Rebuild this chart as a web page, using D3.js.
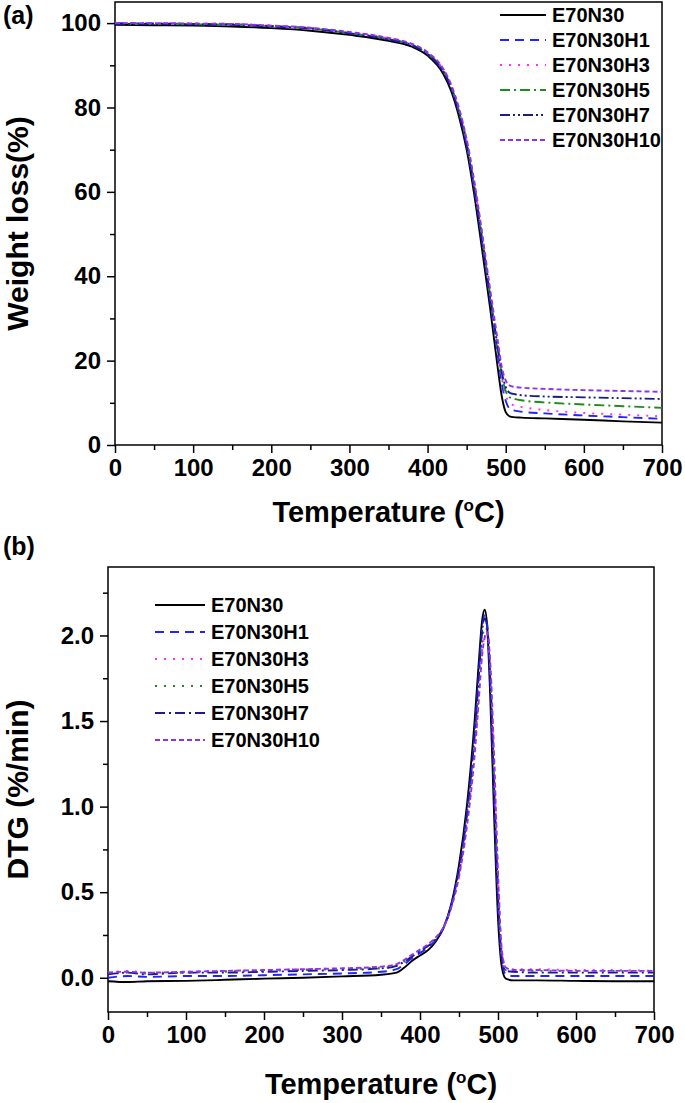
<!DOCTYPE html>
<html>
<head>
<meta charset="utf-8">
<script src="https://cdn.jsdelivr.net/npm/d3@7"></script>
<style>
  body { margin: 0; background: #fff; }
  svg { display: block; font-family: "Liberation Sans", Arial, sans-serif; font-weight: bold; }
  .axis path, .axis line { stroke: #000; stroke-width: 1.5; }
  .axis text { font-size: 24px; font-weight: bold; fill: #000; }
</style>
</head>
<body>
<svg id="chart"></svg>
<script>
// Series names, shared by both panels
const seriesNames = ["E70N30", "E70N30H1", "E70N30H3", "E70N30H5", "E70N30H7", "E70N30H10"];

// (a) TGA: temperature grid and weight values
const tgaTemps = [0, 50, 100, 150, 200, 250, 300, 350, 380, 400, 420, 430, 440, 450, 460, 470, 480, 490, 495, 500, 505, 510, 520, 550, 600, 650, 700];
const tgaE70N30 = [99.6, 99.5, 99.4, 99.2, 98.8, 98.2, 97.2, 95.8, 94.4, 92.3, 88.0, 84.0, 78.0, 70.0, 59.0, 46.0, 32.5, 18.0, 11.5, 7.8, 6.8, 6.6, 6.5, 6.3, 6.0, 5.6, 5.3];
const tgaH1 = [100.0, 99.9, 99.8, 99.7, 99.3, 98.8, 97.6, 96.2, 94.8, 92.7, 88.6, 84.8, 79.0, 71.2, 60.5, 48.0, 34.5, 21.0, 14.5, 10.5, 8.6, 8.2, 7.9, 7.5, 7.0, 6.6, 6.2];
const tgaH3 = [100.0, 100.0, 99.9, 99.8, 99.4, 98.9, 97.8, 96.4, 95.0, 93.0, 89.0, 85.3, 79.8, 72.2, 61.8, 49.5, 36.0, 22.5, 15.8, 11.8, 9.9, 9.4, 9.0, 8.3, 7.6, 7.2, 6.8];
const tgaH5 = [99.8, 99.8, 99.7, 99.6, 99.2, 98.7, 97.6, 96.2, 94.8, 92.8, 88.7, 85.0, 79.3, 71.6, 61.2, 48.8, 35.5, 22.5, 16.5, 12.8, 11.3, 11.0, 10.6, 10.1, 9.6, 9.2, 8.8];
const tgaH7 = [99.8, 99.8, 99.7, 99.6, 99.2, 98.7, 97.6, 96.1, 94.7, 92.6, 88.5, 84.7, 78.9, 71.0, 60.6, 48.3, 35.3, 23.0, 17.2, 13.8, 12.4, 12.1, 11.8, 11.5, 11.3, 11.1, 10.9];
const tgaH10 = [100.0, 100.0, 99.9, 99.8, 99.4, 98.9, 97.9, 96.5, 95.1, 93.1, 89.2, 85.5, 80.0, 72.5, 62.3, 50.0, 37.0, 24.5, 18.5, 15.3, 14.1, 13.8, 13.6, 13.3, 13.0, 12.8, 12.6];

// (b) DTG: temperature grid and rate values
const dtgTemps = [0, 25, 50, 100, 150, 200, 250, 300, 350, 370, 380, 390, 400, 410, 420, 430, 440, 450, 460, 470, 475, 480, 483, 486, 490, 495, 500, 505, 510, 520, 550, 600, 650, 700];
const dtgE70N30 = [-0.02, -0.025, -0.02, -0.018, -0.012, -0.005, 0.0, 0.008, 0.018, 0.03, 0.06, 0.1, 0.13, 0.16, 0.21, 0.29, 0.43, 0.66, 1.0, 1.5, 1.82, 2.1, 2.15, 2.06, 1.65, 0.95, 0.35, 0.06, -0.005, -0.015, -0.015, -0.018, -0.02, -0.02];
const dtgH1 = [0.0, 0.01, 0.005, 0.01, 0.01, 0.015, 0.02, 0.025, 0.035, 0.05, 0.08, 0.115, 0.145, 0.175, 0.22, 0.29, 0.42, 0.63, 0.95, 1.42, 1.75, 2.05, 2.12, 2.07, 1.75, 1.1, 0.45, 0.1, 0.02, 0.01, 0.01, 0.01, 0.01, 0.01];
const dtgH3 = [0.03, 0.04, 0.03, 0.035, 0.04, 0.045, 0.05, 0.055, 0.06, 0.075, 0.1, 0.13, 0.16, 0.19, 0.23, 0.29, 0.41, 0.6, 0.9, 1.33, 1.63, 1.92, 2.0, 2.01, 1.8, 1.25, 0.6, 0.15, 0.06, 0.05, 0.05, 0.045, 0.045, 0.04];
const dtgH5 = [0.02, 0.03, 0.025, 0.03, 0.035, 0.04, 0.045, 0.05, 0.055, 0.07, 0.095, 0.125, 0.155, 0.185, 0.225, 0.29, 0.42, 0.62, 0.93, 1.38, 1.68, 1.98, 2.05, 2.03, 1.78, 1.18, 0.52, 0.12, 0.045, 0.04, 0.04, 0.04, 0.04, 0.035];
const dtgH7 = [0.02, 0.03, 0.02, 0.03, 0.03, 0.035, 0.04, 0.045, 0.055, 0.07, 0.095, 0.125, 0.155, 0.185, 0.225, 0.29, 0.42, 0.63, 0.95, 1.42, 1.73, 2.04, 2.1, 2.05, 1.75, 1.12, 0.48, 0.11, 0.04, 0.035, 0.03, 0.03, 0.03, 0.03];
const dtgH10 = [0.03, 0.035, 0.03, 0.035, 0.04, 0.045, 0.05, 0.055, 0.065, 0.08, 0.105, 0.135, 0.165, 0.195, 0.235, 0.295, 0.41, 0.59, 0.88, 1.3, 1.6, 1.9, 1.99, 2.02, 1.85, 1.3, 0.62, 0.16, 0.06, 0.045, 0.045, 0.04, 0.04, 0.04];

// Tick values
const xTicks = [0, 100, 200, 300, 400, 500, 600, 700];
const tgaYTicks = [0, 20, 40, 60, 80, 100];
const dtgYTicks = [0, 0.5, 1.0, 1.5, 2.0];

const colors = ["#000000", "#2323ff", "#ff30ff", "#1e8c1e", "#1c1c88", "#9030f0"];

class TgaPanel {
  constructor(_config, _series) {
    this.config = {
      svg: _config.svg,
      left: _config.left,
      top: _config.top,
      width: _config.width,
      height: _config.height,
      yDomain: _config.yDomain,
      yTicks: _config.yTicks,
      yMinor: _config.yMinor,
      yFormat: _config.yFormat,
      yTitle: _config.yTitle,
      letter: _config.letter,
      letterY: _config.letterY,
      dashes: _config.dashes,
      legend: _config.legend,
      xTitleY: _config.xTitleY,
    };
    this.series = _series;
    this.initVis();
  }

  initVis() {
    let vis = this;
    const c = vis.config;

    vis.xScale = d3.scaleLinear().domain([0, 700]).range([0, c.width]);
    vis.yScale = d3.scaleLinear().domain(c.yDomain).range([c.height, 0]);

    vis.chart = c.svg.append("g")
      .attr("transform", `translate(${c.left},${c.top})`);

    vis.chart.append("clipPath").attr("id", "clip" + c.letter)
      .append("rect").attr("width", c.width).attr("height", c.height);

    // minor ticks
    vis.chart.append("g")
      .attr("class", "axis")
      .attr("transform", `translate(0,${c.height})`)
      .call(d3.axisBottom(vis.xScale).tickValues(d3.range(50, 700, 100)).tickSize(5).tickFormat(""))
      .select(".domain").remove();
    vis.chart.append("g")
      .attr("class", "axis")
      .call(d3.axisLeft(vis.yScale).tickValues(c.yMinor).tickSize(5).tickFormat(""))
      .select(".domain").remove();

    // major ticks
    vis.xAxisG = vis.chart.append("g")
      .attr("class", "axis")
      .attr("transform", `translate(0,${c.height})`)
      .call(d3.axisBottom(vis.xScale).tickValues(xTicks).tickSize(8).tickPadding(6).tickSizeOuter(0));
    vis.xAxisG.select(".domain").remove();

    vis.yAxisG = vis.chart.append("g")
      .attr("class", "axis")
      .call(d3.axisLeft(vis.yScale).tickValues(c.yTicks).tickSize(8).tickPadding(6).tickFormat(c.yFormat));
    vis.yAxisG.select(".domain").remove();

    // frame
    vis.chart.append("rect")
      .attr("width", c.width).attr("height", c.height)
      .attr("fill", "none").attr("stroke", "#000").attr("stroke-width", 1.5);

    // axis titles
    const xt = c.svg.append("text")
      .attr("x", c.left + c.width / 2).attr("y", c.xTitleY)
      .attr("text-anchor", "middle").style("font-size", "29px");
    xt.append("tspan").text("Temperature (");
    xt.append("tspan").attr("dy", -11).style("font-size", "17px").text("o");
    xt.append("tspan").attr("dy", 11).text("C)");

    c.svg.append("text")
      .attr("transform", `translate(28,${c.top + c.height / 2})rotate(-90)`)
      .attr("text-anchor", "middle").style("font-size", "30px")
      .text(c.yTitle);

    c.svg.append("text")
      .attr("x", 3).attr("y", c.letterY)
      .style("font-size", "25px").text(`(${c.letter})`);

    vis.renderVis();
  }

  renderVis() {
    let vis = this;
    const c = vis.config;

    const line = d3.line()
      .x((d) => vis.xScale(d[0]))
      .y((d) => vis.yScale(d[1]))
      .curve(d3.curveMonotoneX);

    vis.chart.append("g")
      .attr("clip-path", `url(#clip${c.letter})`)
      .selectAll(".line")
      .data(vis.series)
      .join("path")
      .attr("class", "line")
      .attr("d", (d) => line(d.points))
      .attr("fill", "none")
      .attr("stroke", (d, i) => colors[i])
      .attr("stroke-width", 1.9)
      .attr("stroke-dasharray", (d, i) => c.dashes[i]);

    // legend
    const lg = c.legend;
    const rows = c.svg.append("g")
      .selectAll("g")
      .data(vis.series)
      .join("g")
      .attr("transform", (d, i) => `translate(${lg.x},${lg.y + i * lg.step})`);
    rows.append("line")
      .attr("x1", 0).attr("x2", lg.len)
      .attr("stroke", (d, i) => colors[i])
      .attr("stroke-width", 2)
      .attr("stroke-dasharray", (d, i) => c.dashes[i]);
    rows.append("text")
      .attr("x", lg.len + 6).attr("dy", "0.35em")
      .style("font-size", "20px")
      .text((d) => d.name);
  }
}

const svg = d3.select("#chart").attr("width", 685).attr("height", 1103);

const tgaValues = [tgaE70N30, tgaH1, tgaH3, tgaH5, tgaH7, tgaH10];
const dtgValues = [dtgE70N30, dtgH1, dtgH3, dtgH5, dtgH7, dtgH10];

new TgaPanel({
  svg: svg, left: 115, top: 2, width: 547, height: 443,
  yDomain: [0, 105], yTicks: tgaYTicks, yMinor: [10, 30, 50, 70, 90],
  yFormat: d3.format("d"), yTitle: "Weight loss(%)",
  letter: "a", letterY: 24, xTitleY: 522,
  dashes: ["none", "9,6", "2,7", "10,4,2,4", "10,3,2,3,2,3", "5,3"],
  legend: { x: 500, y: 15, step: 25, len: 46 },
}, seriesNames.map((n, i) => ({ name: n, points: tgaTemps.map((t, j) => [t, tgaValues[i][j]]) })));

new TgaPanel({
  svg: svg, left: 108, top: 567, width: 546, height: 445,
  yDomain: [-0.2, 2.4], yTicks: dtgYTicks, yMinor: [0.25, 0.75, 1.25, 1.75, 2.25],
  yFormat: d3.format(".1f"), yTitle: "DTG (%/min)",
  letter: "b", letterY: 555, xTitleY: 1094,
  dashes: ["none", "9,6", "2,7", "2,7", "10,4,2,4", "5,3"],
  legend: { x: 155, y: 605, step: 27, len: 50 },
}, seriesNames.map((n, i) => ({ name: n, points: dtgTemps.map((t, j) => [t, dtgValues[i][j]]) })));
</script>
</body>
</html>
